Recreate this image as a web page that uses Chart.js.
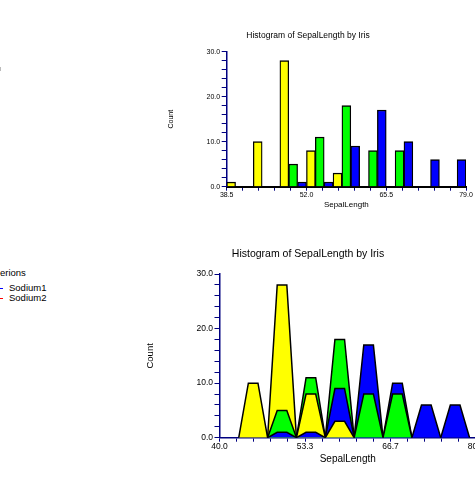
<!DOCTYPE html>
<html>
<head>
<meta charset="utf-8">
<script src="https://cdn.jsdelivr.net/npm/chart.js@4.4.0/dist/chart.umd.min.js"></script>
<style>
    body {
        margin: 0;
        width: 475px;
        height: 487px;
        overflow: hidden;
        position: relative;
        background: #fff;
        font-family: "Liberation Sans", Arial, sans-serif;
    }
    canvas {
        position: absolute;
    }
    #top_chart {
        left: 150px;
        top: 20px;
    }
    #bottom_chart {
        left: 140px;
        top: 240px;
    }
    .cut {
        position: absolute;
        white-space: nowrap;
        color: #000;
        font-size: 9.5px;
        line-height: 11px;
    }
    .mark {
        position: absolute;
        width: 3px;
        height: 1px;
    }
</style>
</head>
<body>
<div class="mark" style="left:0; top:67px; width:1px; height:4px; background:#bbb"></div>
<div class="cut" style="left:0; top:267px">erions</div>
<div class="mark" style="left:0; top:288px; background:#0000ff"></div>
<div class="cut" style="left:9px; top:282px">Sodium1</div>
<div class="mark" style="left:0; top:298px; background:#ff0000"></div>
<div class="cut" style="left:9px; top:292px">Sodium2</div>

<canvas id="top_chart" width="325" height="200"></canvas>
<canvas id="bottom_chart" width="345" height="240"></canvas>

<script>
// bins of SepalLength (mm), 4.5 wide
const binStarts = [38.5, 43.0, 47.5, 52.0, 56.5, 61.0, 65.5, 70.0, 74.5];
const binWidth = 4.5;

const irisNames = ["Setosa", "Versicolor", "Virginica"];
const setosaCounts = [1, 10, 28, 8, 3, 0, 0, 0, 0];
const versicolorCounts = [0, 0, 5, 11, 18, 8, 8, 0, 0];
const virginicaCounts = [0, 0, 1, 1, 9, 17, 10, 6, 6];
const irisColors = ["#ffff00", "#00ff00", "#0000ff"];

const countLabels = [0, 10, 20, 30];
const topXLabels = ["38.5", "52.0", "65.5", "79.0"];
const bottomXLabels = ["40.0", "53.3", "66.7", "80.0"];

const seriesCounts = [setosaCounts, versicolorCounts, virginicaCounts];
const navy = "#000080";
const fontFamily = "'Liberation Sans', Arial, sans-serif";

// 5 tick steps between each labelled value
function setMinorTicks(scale) {
    const steps = 15;
    const ticks = [];
    for (let i = 0; i <= steps; i++) {
        ticks.push({ value: scale.min + ((scale.max - scale.min) * i) / steps });
    }
    scale.ticks = ticks;
}

function countAxis(width, tickFont, titleFont, titlePad) {
    return {
        min: 0,
        max: 30,
        afterFit: (scale) => {
            scale.width = width;
        },
        ticks: {
            stepSize: 2,
            autoSkip: false,
            padding: 1.5,
            color: "#000",
            font: { size: tickFont, family: fontFamily },
            callback: (v) => (countLabels.includes(v) ? v.toFixed(1) : ""),
        },
        grid: {
            drawOnChartArea: false,
            tickLength: 5,
            color: navy,
        },
        border: { color: navy, width: 1.5 },
        title: {
            display: true,
            text: "Count",
            color: "#000",
            font: { size: titleFont, family: fontFamily },
            padding: { top: titlePad, bottom: 0 },
        },
    };
}

function lengthAxis(min, max, labels, height, tickFont, titleFont, titlePad, borderColor, borderWidth) {
    return {
        type: "linear",
        min: min,
        max: max,
        offset: false,
        afterBuildTicks: setMinorTicks,
        afterFit: (scale) => {
            scale.height = height;
        },
        ticks: {
            autoSkip: false,
            maxRotation: 0,
            padding: 0,
            color: "#000",
            font: { size: tickFont, family: fontFamily },
            callback: (v, i) => (i % 5 === 0 ? labels[i / 5] : ""),
        },
        grid: {
            drawOnChartArea: false,
            offset: false,
            tickLength: 4,
            color: navy,
        },
        border: { color: borderColor, width: borderWidth },
        title: {
            display: true,
            text: "SepalLength",
            color: "#000",
            font: { size: titleFont, family: fontFamily },
            padding: { top: 0, bottom: titlePad },
        },
    };
}

function chartTitle(size, top, bottom) {
    return {
        display: true,
        text: "Histogram of SepalLength by Iris",
        color: "#000",
        font: { size: size, weight: "normal", family: fontFamily },
        padding: { top: top, bottom: bottom },
    };
}

// top: bars side by side, one third of a bin each
const topDatasets = seriesCounts.map((counts, s) => ({
    label: irisNames[s],
    data: counts
        .map((c, i) => ({ x: binStarts[i] + ((s + 0.5) * binWidth) / 3, y: c }))
        .filter((p) => p.y > 0),
    backgroundColor: irisColors[s],
    borderColor: "#000",
    borderWidth: 1.3,
    grouped: false,
    barPercentage: 1,
    categoryPercentage: 1,
}));

new Chart(document.getElementById("top_chart"), {
    type: "bar",
    data: { datasets: topDatasets },
    options: {
        responsive: false,
        animation: false,
        layout: { padding: { left: 0, right: 9, top: 0, bottom: 0 } },
        plugins: {
            legend: { display: false },
            tooltip: { enabled: false },
            title: chartTitle(8.5, 10.4, 11.1),
        },
        scales: {
            x: lengthAxis(38.5, 79.0, topXLabels, 33.3, 7, 8, 10, "#000", 2),
            y: countAxis(76.7, 7, 7, 17),
        },
    },
});

// bottom: one trapezoid per bin and species, biggest drawn first
const bottomMin = 40;
const bottomDatasets = [];
seriesCounts.forEach((counts, s) => {
    counts.forEach((c, i) => {
        const x0 = binStarts[i];
        if (c === 0 || x0 < bottomMin) return;
        bottomDatasets.push({
            label: irisNames[s],
            data: [
                { x: x0, y: 0 },
                { x: x0 + binWidth / 3, y: c },
                { x: x0 + (2 * binWidth) / 3, y: c },
                { x: x0 + binWidth, y: 0 },
            ],
            order: c,
            fill: "origin",
            backgroundColor: irisColors[s],
            borderColor: "#000",
            borderWidth: 1.5,
            pointRadius: 0,
            tension: 0,
        });
    });
});

new Chart(document.getElementById("bottom_chart"), {
    type: "line",
    data: { datasets: bottomDatasets },
    options: {
        responsive: false,
        animation: false,
        layout: { padding: { left: 0, right: 9, top: 0, bottom: 0 } },
        plugins: {
            legend: { display: false },
            tooltip: { enabled: false },
            title: chartTitle(10.5, 7.5, 13.9),
        },
        scales: {
            x: lengthAxis(40, 80, bottomXLabels, 42.3, 8.5, 10, 15, navy, 1.5),
            y: countAxis(79.5, 8.5, 9.5, 4.3),
        },
    },
});
</script>
</body>
</html>
